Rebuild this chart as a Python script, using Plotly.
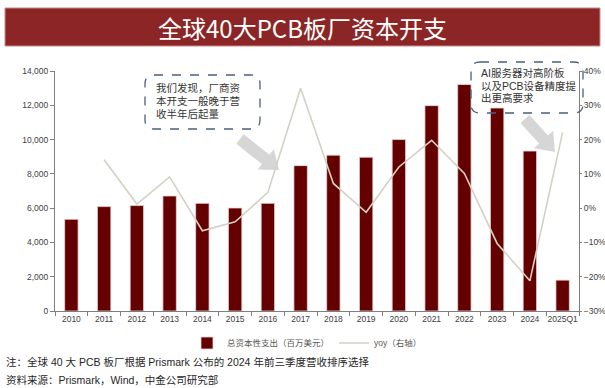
import plotly.graph_objects as go
import math

# ---- data ----
years = ["2010", "2011", "2012", "2013", "2014", "2015", "2016", "2017", "2018",
         "2019", "2020", "2021", "2022", "2023", "2024", "2025Q1"]
capex = [5350, 6090, 6150, 6710, 6280, 6010, 6280, 8480, 9090,
         8970, 10000, 11980, 13210, 11840, 9330, 1800]
yoy_years = years[1:]
yoy = [0.141, 0.012, 0.091, -0.066, -0.040, 0.046, 0.350, 0.072,
       -0.012, 0.120, 0.198, 0.101, -0.103, -0.212, 0.221]

bar_name = "总资本性支出（百万美元）"
line_name = "yoy（右轴）"
title_text = "全球40大PCB板厂资本开支"
note1 = "注：全球 40 大 PCB 板厂根据 Prismark 公布的 2024 年前三季度营收排序选择"
note2 = "资料来源：Prismark，Wind，中金公司研究部"
box1_lines = ["我们发现，厂商资", "本开支一般晚于营", "收半年后起量"]
box2_lines = ["AI服务器对高阶板", "以及PCB设备精度提", "出更高要求"]

CJK = "Noto Sans CJK SC"
MIX = "Liberation Sans, Noto Sans CJK SC"

# plot-area geometry in pixels
L, R, T, B = 55, 579, 71, 311
W, H = R - L, B - T


def px(x):
    return (x - L) / W


def py(y):
    return (B - y) / H


def P(x, y):
    return f"{px(x):.5f},{py(y):.5f}"


def rounded_rect(x0, y0, x1, y1, r):
    return (f"M {P(x0 + r, y0)} L {P(x1 - r, y0)} Q {P(x1, y0)} {P(x1, y0 + r)} "
            f"L {P(x1, y1 - r)} Q {P(x1, y1)} {P(x1 - r, y1)} "
            f"L {P(x0 + r, y1)} Q {P(x0, y1)} {P(x0, y1 - r)} "
            f"L {P(x0, y0 + r)} Q {P(x0, y0)} {P(x0 + r, y0)} Z")


def arrow_path(x0, y0, x1, y1, sw, hw, hl):
    dx, dy = x1 - x0, y1 - y0
    d = math.hypot(dx, dy)
    ux, uy = dx / d, dy / d
    nx, ny = -uy, ux
    bx, by = x1 - ux * hl, y1 - uy * hl
    pts = [
        (x0 + nx * sw / 2, y0 + ny * sw / 2),
        (bx + nx * sw / 2, by + ny * sw / 2),
        (bx + nx * hw / 2, by + ny * hw / 2),
        (x1, y1),
        (bx - nx * hw / 2, by - ny * hw / 2),
        (bx - nx * sw / 2, by - ny * sw / 2),
        (x0 - nx * sw / 2, y0 - ny * sw / 2),
    ]
    return "M " + " L ".join(P(a, b) for a, b in pts) + " Z"


fig = go.Figure()
fig.add_trace(go.Bar(
    x=years, y=capex, name=bar_name,
    marker=dict(color="#650000", line=dict(color="#E8D8D8", width=0.8)),
    width=0.41,
))
fig.add_trace(go.Scatter(
    x=yoy_years, y=yoy, name=line_name, yaxis="y2", mode="lines",
    line=dict(color="#D3D1C3", width=1.6),
))

shapes = [
    dict(type="rect", xref="paper", yref="paper",
         x0=px(5), x1=px(600), y0=py(46), y1=py(8),
         fillcolor="#8C2626", line=dict(color="#C98A8A", width=1), layer="above"),
    dict(type="path", xref="paper", yref="paper", layer="below",
         path=arrow_path(240, 139, 279, 170, 12, 26, 17),
         fillcolor="#D6D6D6", line=dict(width=0)),
    dict(type="path", xref="paper", yref="paper", layer="below",
         path=arrow_path(525, 119, 555, 152, 12, 26, 17),
         fillcolor="#D6D6D6", line=dict(width=0)),
    dict(type="path", xref="paper", yref="paper", layer="above",
         path=rounded_rect(145, 75, 260, 129, 9),
         line=dict(color="#4A5F80", width=1.3, dash="dash")),
    dict(type="path", xref="paper", yref="paper", layer="above",
         path=rounded_rect(471, 62, 583, 113, 9),
         line=dict(color="#4A5F80", width=1.3, dash="dash")),
]

annotations = [
    dict(text=title_text, xref="paper", yref="paper", x=px(302), y=py(27),
         xanchor="center", yanchor="middle", showarrow=False,
         font=dict(family=CJK, size=24, color="white")),
    dict(text=note1, xref="paper", yref="paper", x=px(4), y=py(362),
         xanchor="left", yanchor="middle", showarrow=False,
         font=dict(family=MIX, size=10.5, color="#262626")),
    dict(text=note2, xref="paper", yref="paper", x=px(4), y=py(380),
         xanchor="left", yanchor="middle", showarrow=False,
         font=dict(family=MIX, size=10.5, color="#262626")),
]
for i, t in enumerate(box1_lines):
    annotations.append(dict(text=t, xref="paper", yref="paper", x=px(154), y=py(88 + 13 * i),
                            xanchor="left", yanchor="middle", showarrow=False,
                            font=dict(family=MIX, size=10.5, color="#333333")))
for i, t in enumerate(box2_lines):
    annotations.append(dict(text=t, xref="paper", yref="paper", x=px(479), y=py(73 + 12.5 * i),
                            xanchor="left", yanchor="middle", showarrow=False,
                            font=dict(family=MIX, size=10.5, color="#333333")))

axis_common = dict(showline=True, linecolor="#7F7F7F", linewidth=1, ticks="outside",
                   ticklen=4, tickcolor="#7F7F7F", showgrid=False, zeroline=False,
                   automargin=False, tickfont=dict(family=MIX, size=8.5, color="#404040"))
axis_right = dict(axis_common, ticklen=2)

fig.update_layout(
    width=605, height=388,
    margin=dict(l=L, r=605 - R, t=T, b=388 - B, autoexpand=False),
    paper_bgcolor="white", plot_bgcolor="white",
    font=dict(family=MIX, size=9, color="#404040"),
    bargap=0.59,
    showlegend=True,
    legend=dict(orientation="h", x=px(307), xanchor="center", y=py(343), yanchor="middle",
                font=dict(family=MIX, size=8.5, color="#595959"), itemwidth=30,
                bgcolor="rgba(0,0,0,0)"),
    xaxis=dict(type="category", tickson="boundaries", tickangle=0, **axis_common),
    yaxis=dict(range=[0, 14000], dtick=2000, tickformat=",", **axis_common),
    yaxis2=dict(range=[-0.3, 0.4], dtick=0.1, tickformat=".0%", overlaying="y", side="right",
                **axis_right),
    shapes=shapes,
    annotations=annotations,
)

fig.write_html("out.html", config={"displayModeBar": False},
               post_script="document.body.style.margin='0px';document.body.style.padding='0px';")
